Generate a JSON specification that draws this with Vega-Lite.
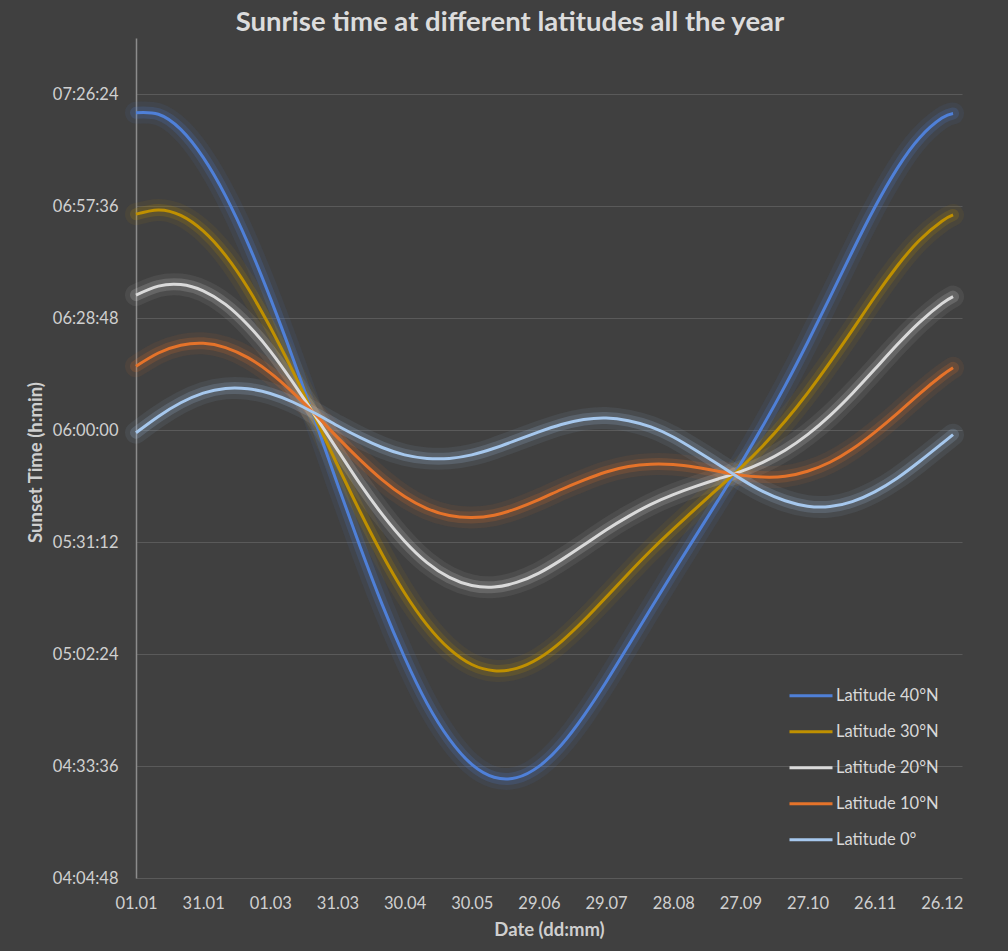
{
  "$schema": "https://vega.github.io/schema/vega-lite/v6.json",
  "width": 826,
  "height": 840,
  "autosize": "none",
  "padding": {"left": 136, "top": 38, "right": 46, "bottom": 73},
  "background": "#404040",
  "title": {
    "text": "Sunrise time at different latitudes all the year",
    "font": "Lato",
    "fontSize": 27.5,
    "fontWeight": "bold",
    "color": "#dcdcdc",
    "anchor": "middle",
    "frame": "group",
    "dx": -39,
    "offset": 2
  },
  "data": {
    "values": [
      {"day": 0, "series": "Latitude 40°N", "minutes": 441.6},
      {"day": 10, "series": "Latitude 40°N", "minutes": 441.2},
      {"day": 20, "series": "Latitude 40°N", "minutes": 437.3},
      {"day": 30, "series": "Latitude 40°N", "minutes": 430.1},
      {"day": 40, "series": "Latitude 40°N", "minutes": 420.2},
      {"day": 50, "series": "Latitude 40°N", "minutes": 408.0},
      {"day": 60, "series": "Latitude 40°N", "minutes": 393.9},
      {"day": 70, "series": "Latitude 40°N", "minutes": 378.6},
      {"day": 80, "series": "Latitude 40°N", "minutes": 362.5},
      {"day": 90, "series": "Latitude 40°N", "minutes": 346.1},
      {"day": 100, "series": "Latitude 40°N", "minutes": 330.2},
      {"day": 110, "series": "Latitude 40°N", "minutes": 315.1},
      {"day": 120, "series": "Latitude 40°N", "minutes": 301.5},
      {"day": 130, "series": "Latitude 40°N", "minutes": 289.7},
      {"day": 140, "series": "Latitude 40°N", "minutes": 280.5},
      {"day": 150, "series": "Latitude 40°N", "minutes": 274.0},
      {"day": 160, "series": "Latitude 40°N", "minutes": 270.7},
      {"day": 170, "series": "Latitude 40°N", "minutes": 270.6},
      {"day": 180, "series": "Latitude 40°N", "minutes": 273.5},
      {"day": 190, "series": "Latitude 40°N", "minutes": 279.0},
      {"day": 200, "series": "Latitude 40°N", "minutes": 286.5},
      {"day": 210, "series": "Latitude 40°N", "minutes": 295.2},
      {"day": 220, "series": "Latitude 40°N", "minutes": 304.6},
      {"day": 230, "series": "Latitude 40°N", "minutes": 314.1},
      {"day": 240, "series": "Latitude 40°N", "minutes": 323.5},
      {"day": 250, "series": "Latitude 40°N", "minutes": 332.7},
      {"day": 260, "series": "Latitude 40°N", "minutes": 341.9},
      {"day": 270, "series": "Latitude 40°N", "minutes": 351.2},
      {"day": 280, "series": "Latitude 40°N", "minutes": 361.0},
      {"day": 290, "series": "Latitude 40°N", "minutes": 371.4},
      {"day": 300, "series": "Latitude 40°N", "minutes": 382.5},
      {"day": 310, "series": "Latitude 40°N", "minutes": 394.1},
      {"day": 320, "series": "Latitude 40°N", "minutes": 405.9},
      {"day": 330, "series": "Latitude 40°N", "minutes": 417.2},
      {"day": 340, "series": "Latitude 40°N", "minutes": 427.2},
      {"day": 350, "series": "Latitude 40°N", "minutes": 435.1},
      {"day": 360, "series": "Latitude 40°N", "minutes": 440.2},
      {"day": 365, "series": "Latitude 40°N", "minutes": 441.4},
      {"day": 0, "series": "Latitude 30°N", "minutes": 415.5},
      {"day": 10, "series": "Latitude 30°N", "minutes": 416.6},
      {"day": 20, "series": "Latitude 30°N", "minutes": 415.2},
      {"day": 30, "series": "Latitude 30°N", "minutes": 411.2},
      {"day": 40, "series": "Latitude 30°N", "minutes": 404.9},
      {"day": 50, "series": "Latitude 30°N", "minutes": 396.5},
      {"day": 60, "series": "Latitude 30°N", "minutes": 386.4},
      {"day": 70, "series": "Latitude 30°N", "minutes": 375.2},
      {"day": 80, "series": "Latitude 30°N", "minutes": 363.2},
      {"day": 90, "series": "Latitude 30°N", "minutes": 351.0},
      {"day": 100, "series": "Latitude 30°N", "minutes": 339.1},
      {"day": 110, "series": "Latitude 30°N", "minutes": 328.0},
      {"day": 120, "series": "Latitude 30°N", "minutes": 318.1},
      {"day": 130, "series": "Latitude 30°N", "minutes": 309.9},
      {"day": 140, "series": "Latitude 30°N", "minutes": 303.7},
      {"day": 150, "series": "Latitude 30°N", "minutes": 299.7},
      {"day": 160, "series": "Latitude 30°N", "minutes": 298.1},
      {"day": 170, "series": "Latitude 30°N", "minutes": 298.7},
      {"day": 180, "series": "Latitude 30°N", "minutes": 301.3},
      {"day": 190, "series": "Latitude 30°N", "minutes": 305.6},
      {"day": 200, "series": "Latitude 30°N", "minutes": 311.0},
      {"day": 210, "series": "Latitude 30°N", "minutes": 317.0},
      {"day": 220, "series": "Latitude 30°N", "minutes": 323.1},
      {"day": 230, "series": "Latitude 30°N", "minutes": 329.0},
      {"day": 240, "series": "Latitude 30°N", "minutes": 334.5},
      {"day": 250, "series": "Latitude 30°N", "minutes": 339.8},
      {"day": 260, "series": "Latitude 30°N", "minutes": 345.0},
      {"day": 270, "series": "Latitude 30°N", "minutes": 350.2},
      {"day": 280, "series": "Latitude 30°N", "minutes": 355.9},
      {"day": 290, "series": "Latitude 30°N", "minutes": 362.3},
      {"day": 300, "series": "Latitude 30°N", "minutes": 369.5},
      {"day": 310, "series": "Latitude 30°N", "minutes": 377.4},
      {"day": 320, "series": "Latitude 30°N", "minutes": 385.7},
      {"day": 330, "series": "Latitude 30°N", "minutes": 394.2},
      {"day": 340, "series": "Latitude 30°N", "minutes": 402.1},
      {"day": 350, "series": "Latitude 30°N", "minutes": 408.8},
      {"day": 360, "series": "Latitude 30°N", "minutes": 413.7},
      {"day": 365, "series": "Latitude 30°N", "minutes": 415.3},
      {"day": 0, "series": "Latitude 20°N", "minutes": 394.7},
      {"day": 10, "series": "Latitude 20°N", "minutes": 397.0},
      {"day": 20, "series": "Latitude 20°N", "minutes": 397.4},
      {"day": 30, "series": "Latitude 20°N", "minutes": 395.8},
      {"day": 40, "series": "Latitude 20°N", "minutes": 392.3},
      {"day": 50, "series": "Latitude 20°N", "minutes": 387.0},
      {"day": 60, "series": "Latitude 20°N", "minutes": 380.3},
      {"day": 70, "series": "Latitude 20°N", "minutes": 372.3},
      {"day": 80, "series": "Latitude 20°N", "minutes": 363.7},
      {"day": 90, "series": "Latitude 20°N", "minutes": 354.9},
      {"day": 100, "series": "Latitude 20°N", "minutes": 346.2},
      {"day": 110, "series": "Latitude 20°N", "minutes": 338.3},
      {"day": 120, "series": "Latitude 20°N", "minutes": 331.4},
      {"day": 130, "series": "Latitude 20°N", "minutes": 325.9},
      {"day": 140, "series": "Latitude 20°N", "minutes": 322.1},
      {"day": 150, "series": "Latitude 20°N", "minutes": 320.0},
      {"day": 160, "series": "Latitude 20°N", "minutes": 319.6},
      {"day": 170, "series": "Latitude 20°N", "minutes": 320.8},
      {"day": 180, "series": "Latitude 20°N", "minutes": 323.2},
      {"day": 190, "series": "Latitude 20°N", "minutes": 326.6},
      {"day": 200, "series": "Latitude 20°N", "minutes": 330.4},
      {"day": 210, "series": "Latitude 20°N", "minutes": 334.3},
      {"day": 220, "series": "Latitude 20°N", "minutes": 337.8},
      {"day": 230, "series": "Latitude 20°N", "minutes": 340.9},
      {"day": 240, "series": "Latitude 20°N", "minutes": 343.4},
      {"day": 250, "series": "Latitude 20°N", "minutes": 345.5},
      {"day": 260, "series": "Latitude 20°N", "minutes": 347.4},
      {"day": 270, "series": "Latitude 20°N", "minutes": 349.3},
      {"day": 280, "series": "Latitude 20°N", "minutes": 351.7},
      {"day": 290, "series": "Latitude 20°N", "minutes": 354.8},
      {"day": 300, "series": "Latitude 20°N", "minutes": 358.8},
      {"day": 310, "series": "Latitude 20°N", "minutes": 363.7},
      {"day": 320, "series": "Latitude 20°N", "minutes": 369.4},
      {"day": 330, "series": "Latitude 20°N", "minutes": 375.6},
      {"day": 340, "series": "Latitude 20°N", "minutes": 381.9},
      {"day": 350, "series": "Latitude 20°N", "minutes": 387.7},
      {"day": 360, "series": "Latitude 20°N", "minutes": 392.5},
      {"day": 365, "series": "Latitude 20°N", "minutes": 394.3},
      {"day": 0, "series": "Latitude 10°N", "minutes": 376.4},
      {"day": 10, "series": "Latitude 10°N", "minutes": 379.8},
      {"day": 20, "series": "Latitude 10°N", "minutes": 381.8},
      {"day": 30, "series": "Latitude 10°N", "minutes": 382.3},
      {"day": 40, "series": "Latitude 10°N", "minutes": 381.2},
      {"day": 50, "series": "Latitude 10°N", "minutes": 378.6},
      {"day": 60, "series": "Latitude 10°N", "minutes": 374.7},
      {"day": 70, "series": "Latitude 10°N", "minutes": 369.7},
      {"day": 80, "series": "Latitude 10°N", "minutes": 364.1},
      {"day": 90, "series": "Latitude 10°N", "minutes": 358.1},
      {"day": 100, "series": "Latitude 10°N", "minutes": 352.4},
      {"day": 110, "series": "Latitude 10°N", "minutes": 347.2},
      {"day": 120, "series": "Latitude 10°N", "minutes": 342.9},
      {"day": 130, "series": "Latitude 10°N", "minutes": 339.8},
      {"day": 140, "series": "Latitude 10°N", "minutes": 338.0},
      {"day": 150, "series": "Latitude 10°N", "minutes": 337.5},
      {"day": 160, "series": "Latitude 10°N", "minutes": 338.1},
      {"day": 170, "series": "Latitude 10°N", "minutes": 339.8},
      {"day": 180, "series": "Latitude 10°N", "minutes": 342.1},
      {"day": 190, "series": "Latitude 10°N", "minutes": 344.7},
      {"day": 200, "series": "Latitude 10°N", "minutes": 347.1},
      {"day": 210, "series": "Latitude 10°N", "minutes": 349.2},
      {"day": 220, "series": "Latitude 10°N", "minutes": 350.6},
      {"day": 230, "series": "Latitude 10°N", "minutes": 351.2},
      {"day": 240, "series": "Latitude 10°N", "minutes": 351.1},
      {"day": 250, "series": "Latitude 10°N", "minutes": 350.4},
      {"day": 260, "series": "Latitude 10°N", "minutes": 349.4},
      {"day": 270, "series": "Latitude 10°N", "minutes": 348.4},
      {"day": 280, "series": "Latitude 10°N", "minutes": 347.9},
      {"day": 290, "series": "Latitude 10°N", "minutes": 348.1},
      {"day": 300, "series": "Latitude 10°N", "minutes": 349.4},
      {"day": 310, "series": "Latitude 10°N", "minutes": 351.7},
      {"day": 320, "series": "Latitude 10°N", "minutes": 355.1},
      {"day": 330, "series": "Latitude 10°N", "minutes": 359.4},
      {"day": 340, "series": "Latitude 10°N", "minutes": 364.2},
      {"day": 350, "series": "Latitude 10°N", "minutes": 369.3},
      {"day": 360, "series": "Latitude 10°N", "minutes": 374.0},
      {"day": 365, "series": "Latitude 10°N", "minutes": 376.0},
      {"day": 0, "series": "Latitude 0°", "minutes": 359.3},
      {"day": 10, "series": "Latitude 0°", "minutes": 363.5},
      {"day": 20, "series": "Latitude 0°", "minutes": 367.0},
      {"day": 30, "series": "Latitude 0°", "minutes": 369.5},
      {"day": 40, "series": "Latitude 0°", "minutes": 370.7},
      {"day": 50, "series": "Latitude 0°", "minutes": 370.6},
      {"day": 60, "series": "Latitude 0°", "minutes": 369.4},
      {"day": 70, "series": "Latitude 0°", "minutes": 367.2},
      {"day": 80, "series": "Latitude 0°", "minutes": 364.3},
      {"day": 90, "series": "Latitude 0°", "minutes": 361.1},
      {"day": 100, "series": "Latitude 0°", "minutes": 358.1},
      {"day": 110, "series": "Latitude 0°", "minutes": 355.5},
      {"day": 120, "series": "Latitude 0°", "minutes": 353.6},
      {"day": 130, "series": "Latitude 0°", "minutes": 352.7},
      {"day": 140, "series": "Latitude 0°", "minutes": 352.7},
      {"day": 150, "series": "Latitude 0°", "minutes": 353.6},
      {"day": 160, "series": "Latitude 0°", "minutes": 355.3},
      {"day": 170, "series": "Latitude 0°", "minutes": 357.4},
      {"day": 180, "series": "Latitude 0°", "minutes": 359.5},
      {"day": 190, "series": "Latitude 0°", "minutes": 361.4},
      {"day": 200, "series": "Latitude 0°", "minutes": 362.7},
      {"day": 210, "series": "Latitude 0°", "minutes": 363.1},
      {"day": 220, "series": "Latitude 0°", "minutes": 362.4},
      {"day": 230, "series": "Latitude 0°", "minutes": 360.8},
      {"day": 240, "series": "Latitude 0°", "minutes": 358.2},
      {"day": 250, "series": "Latitude 0°", "minutes": 354.8},
      {"day": 260, "series": "Latitude 0°", "minutes": 351.2},
      {"day": 270, "series": "Latitude 0°", "minutes": 347.5},
      {"day": 280, "series": "Latitude 0°", "minutes": 344.2},
      {"day": 290, "series": "Latitude 0°", "minutes": 341.8},
      {"day": 300, "series": "Latitude 0°", "minutes": 340.4},
      {"day": 310, "series": "Latitude 0°", "minutes": 340.3},
      {"day": 320, "series": "Latitude 0°", "minutes": 341.6},
      {"day": 330, "series": "Latitude 0°", "minutes": 344.1},
      {"day": 340, "series": "Latitude 0°", "minutes": 347.6},
      {"day": 350, "series": "Latitude 0°", "minutes": 351.9},
      {"day": 360, "series": "Latitude 0°", "minutes": 356.5},
      {"day": 365, "series": "Latitude 0°", "minutes": 358.8}
    ]
  },
  "encoding": {
    "x": {
      "field": "day",
      "type": "quantitative",
      "scale": {"domain": [0, 369], "nice": false, "zero": false},
      "axis": {
        "title": "Date (dd:mm)",
        "values": [0, 30, 60, 90, 120, 150, 180, 210, 240, 270, 300, 330, 360],
        "labelExpr": "['01.01','31.01','01.03','31.03','30.04','30.05','29.06','29.07','28.08','27.09','27.10','26.11','26.12'][round(datum.value/30)]",
        "labelFlush": false,
        "grid": false,
        "domain": false,
        "ticks": false,
        "labelPadding": 17,
        "labelFont": "Lato",
        "labelFontSize": 16.5,
        "labelColor": "#d0d0d0",
        "titleFont": "Lato",
        "titleFontSize": 18.5,
        "titleFontWeight": "bold",
        "titleColor": "#cfcfcf",
        "titlePadding": 9
      }
    },
    "y": {
      "field": "minutes",
      "type": "quantitative",
      "scale": {"domain": [244.8, 460.8], "nice": false, "zero": false},
      "axis": {
        "title": "Sunset Time (h:min)",
        "values": [244.8, 273.6, 302.4, 331.2, 360, 388.8, 417.6, 446.4],
        "labelExpr": "utcFormat(round(datum.value*60)*1000, '%H:%M:%S')",
        "labelFlush": false,
        "grid": true,
        "gridColor": "#5a5a5a",
        "gridWidth": 1,
        "domain": true,
        "domainColor": "#8c8c8c",
        "domainWidth": 1.5,
        "ticks": false,
        "labelPadding": 18,
        "labelFont": "Lato",
        "labelFontSize": 16.5,
        "labelColor": "#d0d0d0",
        "titleFont": "Lato",
        "titleFontSize": 18.5,
        "titleFontWeight": "bold",
        "titleColor": "#cfcfcf",
        "titleAngle": -90,
        "titleAlign": "center",
        "titleBaseline": "middle",
        "titleX": -101,
        "titleY": 424
      }
    },
    "color": {
      "field": "series",
      "type": "nominal",
      "scale": {
        "domain": ["Latitude 40°N", "Latitude 30°N", "Latitude 20°N", "Latitude 10°N", "Latitude 0°"],
        "range": ["#4f80d8", "#bf9000", "#dadada", "#e5732a", "#a6c8ee"]
      },
      "legend": {
        "orient": "none",
        "legendX": 652,
        "legendY": 641,
        "title": null,
        "symbolType": "stroke",
        "symbolSize": 1849,
        "symbolStrokeWidth": 3,
        "symbolOpacity": 1,
        "labelFont": "Lato",
        "labelFontSize": 16.5,
        "labelColor": "#d9d9d9",
        "labelOffset": 2,
        "clipHeight": 33.5,
        "rowPadding": 2,
        "padding": 0
      }
    }
  },
  "layer": [
    {
      "mark": {"type": "line", "interpolate": "natural", "strokeWidth": 22, "opacity": 0.08, "strokeCap": "round"}
    },
    {
      "mark": {"type": "line", "interpolate": "natural", "strokeWidth": 12, "opacity": 0.18, "strokeCap": "round"}
    },
    {
      "mark": {"type": "line", "interpolate": "natural", "strokeWidth": 3}
    }
  ],
  "config": {
    "view": {"stroke": null}
  }
}
